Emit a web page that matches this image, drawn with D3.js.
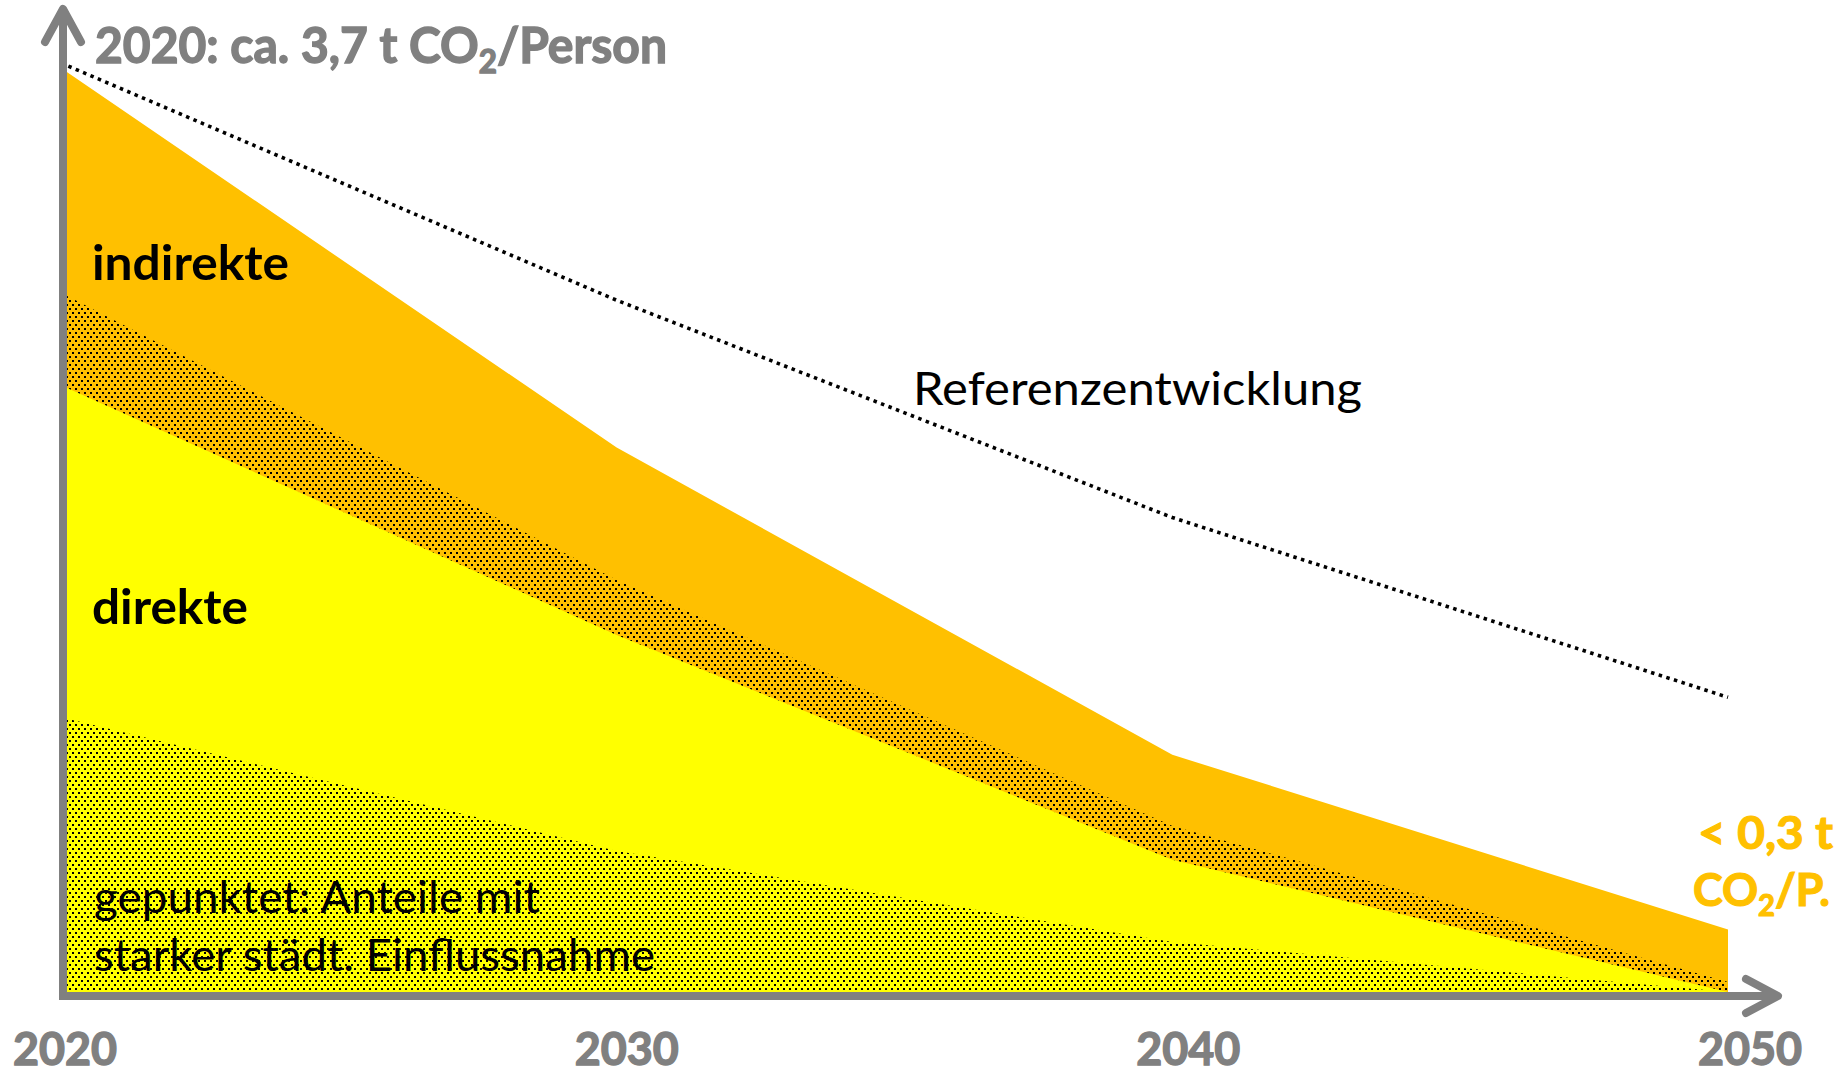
<!DOCTYPE html>
<html>
<head>
<meta charset="utf-8">
<script src="https://cdn.jsdelivr.net/npm/d3@7"></script>
<style>
  html, body { margin: 0; padding: 0; background: #fff; }
  svg { display: block; }
  text { font-family: Lato, "Open Sans", sans-serif; }
</style>
</head>
<body>
<svg id="chart" width="1841" height="1074"></svg>
<script>
// ---- data (t CO2 per person) ----
const years = [2020, 2030, 2040, 2050];
const tickLabels = ["2020", "2030", "2040", "2050"];
// stacked layers, bottom to top
const directDotted   = [1.10, 0.565, 0.20, 0.00];  // direkte, starke städt. Einflussnahme
const directPlain    = [1.33, 0.865, 0.33, 0.00];  // direkte, übrige
const indirectDotted = [0.37, 0.22, 0.135, 0.04];  // indirekte, starke städt. Einflussnahme
const indirectPlain  = [0.90, 0.53, 0.285, 0.21];  // indirekte, übrige
const reference      = [3.72, 2.77, 1.90, 1.18];   // Referenzentwicklung
const yMaxValue = 3.7;

const layerKeys = ["directDotted", "directPlain", "indirectDotted", "indirectPlain"];
const rows = years.map((yr, i) => ({
  year: yr,
  directDotted: directDotted[i],
  directPlain: directPlain[i],
  indirectDotted: indirectDotted[i],
  indirectPlain: indirectPlain[i]
}));

const ORANGE = "#FFC000", YELLOW = "#FFFF00", GRAY = "#808080";

const svg = d3.select("#chart");
const x = d3.scaleLinear().domain([2020, 2050]).range([61, 1728]);
const y = d3.scaleLinear().domain([0, yMaxValue]).range([992, 68]);
const xLabel = d3.scaleLinear().domain([2020, 2050]).range([65, 1750]);

// patterns
const defs = svg.append("defs");
function dotPattern(id, base) {
  const p = defs.append("pattern").attr("id", id)
    .attr("patternUnits", "userSpaceOnUse").attr("width", 6).attr("height", 8);
  p.append("rect").attr("width", 6).attr("height", 8).attr("fill", base);
  p.append("rect").attr("x", 0).attr("y", 0).attr("width", 2).attr("height", 2).attr("fill", "#000");
  p.append("rect").attr("x", 3).attr("y", 4).attr("width", 2).attr("height", 2).attr("fill", "#000");
}
dotPattern("dotsOrange", ORANGE);
dotPattern("dotsYellow", YELLOW);

const fills = {
  directDotted: "url(#dotsYellow)",
  directPlain: YELLOW,
  indirectDotted: "url(#dotsOrange)",
  indirectPlain: ORANGE
};

const stacked = d3.stack().keys(layerKeys)(rows);
const area = d3.area()
  .x(d => x(d.data.year))
  .y0(() => y(0))
  .y1(d => y(d[1]));

// paint from top layer downward, each from baseline to its cumulative top
svg.append("g").selectAll("path")
  .data(stacked.slice().reverse())
  .join("path")
  .attr("d", d => area(d))
  .attr("fill", d => fills[d.key]);

// reference line
const refLine = d3.line().x((d, i) => x(years[i])).y(d => y(d));
svg.append("path")
  .attr("d", refLine(reference))
  .attr("fill", "none")
  .attr("stroke", "#000")
  .attr("stroke-width", 3.6)
  .attr("stroke-dasharray", "3.5,4.5");

// axes
const ax = x(2020) + 2, ay = y(0) + 4;
const axG = svg.append("g").attr("stroke", GRAY).attr("stroke-width", 8).attr("fill", "none")
  .attr("stroke-linecap", "round").attr("stroke-linejoin", "round");
axG.append("line").attr("x1", ax).attr("y1", ay + 4).attr("x2", ax).attr("y2", 9).attr("stroke-linecap", "butt");
axG.append("polyline").attr("points", [[ax - 18, 42], [ax, 9], [ax + 18, 42]].join(" "));
axG.append("line").attr("x1", ax - 4).attr("y1", ay).attr("x2", 1777).attr("y2", ay).attr("stroke-linecap", "butt");
axG.append("polyline").attr("points", [[1746, ay - 17], [1778, ay], [1746, ay + 17]].join(" "));

// tick labels
svg.append("g").selectAll("text")
  .data(years)
  .join("text")
  .attr("x", d => xLabel(d))
  .attr("y", 1065)
  .attr("text-anchor", "middle")
  .attr("font-size", 46)
  .attr("font-weight", "bold")
  .attr("fill", GRAY)
  .attr("stroke", GRAY).attr("stroke-width", 1.4)
  .attr("textLength", 104)
  .attr("lengthAdjust", "spacingAndGlyphs")
  .text((d, i) => tickLabels[i]);

// title
const title = svg.append("text")
  .attr("x", 95).attr("y", 63)
  .attr("font-size", 49).attr("font-weight", "bold").attr("fill", GRAY)
  .attr("stroke", GRAY).attr("stroke-width", 1.4)
  .attr("textLength", 572).attr("lengthAdjust", "spacingAndGlyphs");
title.append("tspan").text("2020: ca. 3,7 t CO");
title.append("tspan").attr("font-size", 32).attr("dy", 10).text("2");
title.append("tspan").attr("dy", -10).text("/Person");

function label(txt, xx, yy, size, weight, fill, len, anchor) {
  return svg.append("text")
    .attr("x", xx).attr("y", yy)
    .attr("font-size", size).attr("font-weight", weight).attr("fill", fill)
    .attr("text-anchor", anchor || "start")
    .attr("textLength", len).attr("lengthAdjust", "spacingAndGlyphs")
    .text(txt);
}
label("indirekte", 92, 280, 48, "bold", "#000", 197);
label("direkte", 92, 624, 48, "bold", "#000", 156);
label("gepunktet: Anteile mit", 94, 913, 44, "normal", "#000", 446);
label("starker städt. Einflussnahme", 94, 971, 44, "normal", "#000", 561);
label("Referenzentwicklung", 913, 405, 46, "normal", "#000", 449);
label("< 0,3 t", 1833, 849, 46, "bold", ORANGE, 135, "end")
  .attr("stroke", ORANGE).attr("stroke-width", 1.2);

const co = svg.append("text")
  .attr("x", 1830).attr("y", 906)
  .attr("font-size", 46).attr("font-weight", "bold").attr("fill", ORANGE)
  .attr("stroke", ORANGE).attr("stroke-width", 1.2)
  .attr("text-anchor", "end")
  .attr("textLength", 137).attr("lengthAdjust", "spacingAndGlyphs");
co.append("tspan").text("CO");
co.append("tspan").attr("font-size", 30).attr("dy", 10).text("2");
co.append("tspan").attr("dy", -10).text("/P.");
</script>
</body>
</html>
